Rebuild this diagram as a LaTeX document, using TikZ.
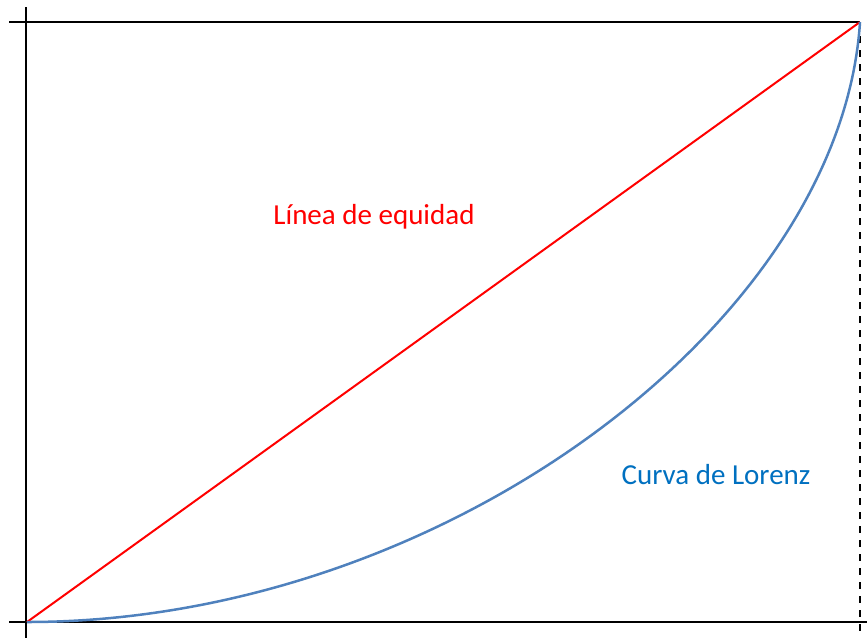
\documentclass[tikz,border=0pt]{standalone}
\usepackage{fontspec}
\setmainfont{Carlito}
\definecolor{lorenzblue}{HTML}{4F81BD}
\definecolor{labelblue}{HTML}{0070C0}
\begin{document}
\begin{tikzpicture}[x=1pt,y=-1pt,
  axis/.style={black,line width=2pt},
  guide/.style={black,line width=1.6pt,dash pattern=on 7pt off 7pt},
  equity/.style={red,line width=2pt},
  lorenz/.style={lorenzblue,line width=2.5pt},
  lbl/.style={font=\fontsize{29}{34}\selectfont,inner sep=0pt}]
\useasboundingbox (0,0) rectangle (867,638);
\coordinate (O) at (27,622);
\coordinate (T) at (860,22);
\coordinate (ytop) at (26,7);
\coordinate (ybot) at (26,638);
\coordinate (tl) at (9,22);
\coordinate (bl) at (9,622);
\coordinate (br) at (867,622);
\coordinate (db) at (860,638);
\draw[axis] (ytop) -- (ybot);
\draw[axis] (tl) -- (T);
\draw[axis] (bl) -- (br);
\draw[guide] (T) -- (db);
\draw[equity] (O) -- (T);
\draw[lorenz] (O) .. controls (443,622) and (841,322) .. (T);
\node[lbl,text=red] (eq) at (374,217) {Línea de equidad};
\node[lbl,text=labelblue] (lz) at (716,475) {Curva de Lorenz};
\end{tikzpicture}
\end{document}
